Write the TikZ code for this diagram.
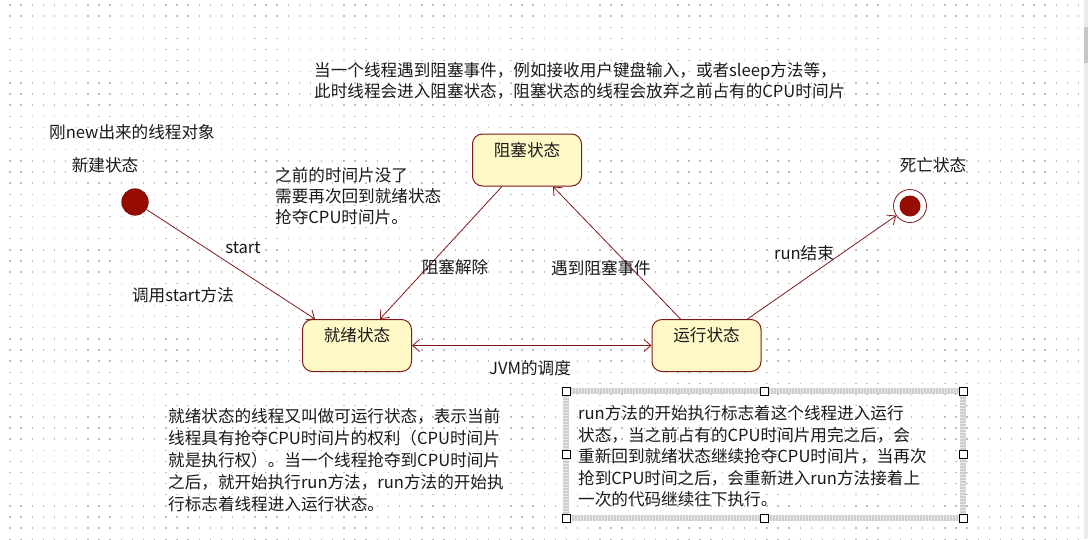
\documentclass[tikz,border=0pt]{standalone}
\usepackage{fontspec}
\setmainfont{Noto Sans CJK SC}
\usetikzlibrary{arrows.meta,calc}
\definecolor{edgec}{RGB}{128,26,26}
\definecolor{stfill}{RGB}{255,249,200}
\definecolor{dotc}{RGB}{190,190,190}
\definecolor{blobc}{RGB}{150,12,0}
\definecolor{txtc}{RGB}{25,25,25}
\definecolor{bandc}{RGB}{206,206,206}
\newcommand{\mystrut}{\rule{0pt}{16pt}}
\tikzset{
  statebox/.style={draw=edgec, fill=stfill, line width=1pt, rounded corners=10pt,
    minimum width=109pt, minimum height=52pt, inner sep=0pt},
  txt/.style={font=\fontsize{16.6}{21.5}\selectfont, text=txtc, inner sep=0pt},
  para/.style={txt, align=left, anchor=north west},
  trans/.style={draw=edgec, line width=0.8pt,
    -{Straight Barb[length=7pt,width=12pt,line width=0.8pt]}},
  both/.style={draw=edgec, line width=0.8pt,
    {Straight Barb[length=7pt,width=12pt,line width=0.8pt]}-{Straight Barb[length=7pt,width=12pt,line width=0.8pt]}},
  handle/.style={draw=black, fill=white, line width=0.9pt, minimum size=8pt, inner sep=0pt, rectangle},
}
\begin{document}
\begin{tikzpicture}[x=1pt,y=-1pt]
\useasboundingbox (0,0) rectangle (1088,539);
\fill[white] (0,0) rectangle (1088,539);
% dot grid
\foreach \r in {0,...,48}{
  \draw[dotc, line width=1.4pt, dash pattern=on 1.4pt off 9.73pt] (9.3,{5+\r*11.13}) -- (1088,{5+\r*11.13});
}
% scrollbar strip
\fill[black!8] (1084,0) rectangle (1088,539);
\fill[black!22] (1084,27) rectangle (1088,63);

% states
\node[statebox] (blocked) at (527,160) {};
\node[txt] (blockedl) at (527,150) {阻塞状态};
\node[statebox] (ready) at (357,345.5) {};
\node[txt] (readyl) at (357,335) {就绪状态};
\node[statebox] (running) at (706.5,345.5) {};
\node[txt] (runningl) at (706.5,335) {运行状态};

\node[circle, fill=blobc, draw=blobc!70!black, line width=0.5pt, minimum size=26.6pt, inner sep=0pt] (init) at (135,202) {};
\node[circle, draw=edgec, fill=white, line width=0.8pt, minimum size=33pt, inner sep=0pt] (final) at (910,206) {};
\node[circle, fill=blobc, minimum size=21pt, inner sep=0pt] (finalin) at (910,206) {};

\node[txt] (initl) at (105,165) {新建状态};
\node[txt] (finall) at (933,165) {死亡状态};
\node[txt, anchor=west] (newobj) at (49,132) {刚new出来的线程对象};

% connectors
\coordinate (readyin) at ($(ready.north west)+(13,0)$);
\draw[trans] (init) -- (readyin);
\draw[trans] ($(blocked.south)+(-25,0)$) -- ($(ready.north)+(23,0)$);
\draw[trans] ($(running.north)+(-26,0)$) -- ($(blocked.south)+(26,0)$);
\draw[trans] ($(running.north)+(41,0)$) -- (final);
\draw[both] (ready) -- (running);

% connector labels
\node[txt] (startl) at (243,248) {start};
\node[txt] (callstart) at (183,295) {调用start方法};
\node[txt] (unblock) at (455,267) {阻塞解除};
\node[txt] (meetblock) at (601,268) {遇到阻塞事件};
\node[txt] (runend) at (804,253) {run结束};
\node[txt] (jvm) at (530,368) {JVM的调度};

% notes
\node[para, font=\fontsize{16.6}{20.5}\selectfont] (topnote) at (314,60.3)
  {\mystrut 当一个线程遇到阻塞事件，例如接收用户键盘输入，或者sleep方法等，\\
   此时线程会进入阻塞状态，阻塞状态的线程会放弃之前占有的CPU时间片};
\node[para, font=\fontsize{16.6}{21}\selectfont] (slicenote) at (275,165.3)
  {\mystrut 之前的时间片没了\\需要再次回到就绪状态\\抢夺CPU时间片。};
\node[para, font=\fontsize{16.6}{22}\selectfont] (readynote) at (168,406.3)
  {\mystrut 就绪状态的线程又叫做可运行状态，表示当前\\
   线程具有抢夺CPU时间片的权利（CPU时间片\\
   就是执行权）。当一个线程抢夺到CPU时间片\\
   之后，就开始执行run方法，run方法的开始执\\
   行标志着线程进入运行状态。};

% selected note box
\draw[bandc, line width=6pt] (566,391) rectangle (963,518);
\draw[white, line width=6pt, dash pattern=on 1pt off 2pt, opacity=0.55] (566,391) rectangle (963,518);
\node[para, font=\fontsize{16.6}{21.5}\selectfont] (runnote) at (578,403.3)
  {\mystrut run方法的开始执行标志着这个线程进入运行\\
   状态，当之前占有的CPU时间片用完之后，会\\
   重新回到就绪状态继续抢夺CPU时间片，当再次\\
   抢到CPU时间之后，会重新进入run方法接着上\\
   一次的代码继续往下执行。};
\node[handle] (h1) at (566,391) {};
\node[handle] (h2) at (764.5,391) {};
\node[handle] (h3) at (963,391) {};
\node[handle] (h4) at (566,454.5) {};
\node[handle] (h5) at (963,454.5) {};
\node[handle] (h6) at (566,518) {};
\node[handle] (h7) at (764.5,518) {};
\node[handle] (h8) at (963,518) {};
\end{tikzpicture}
\end{document}
